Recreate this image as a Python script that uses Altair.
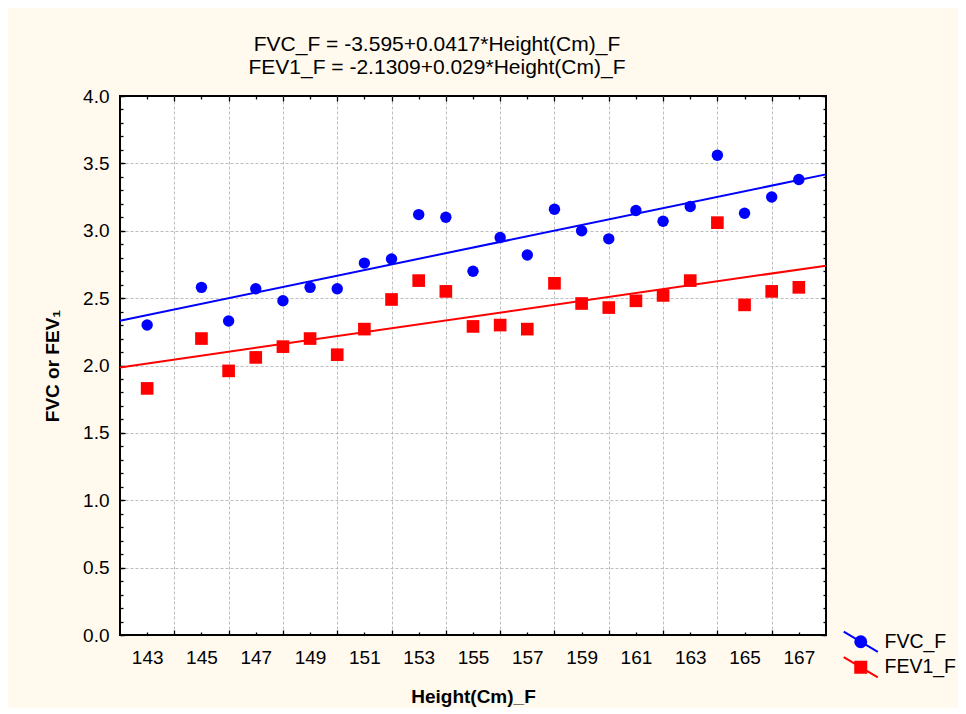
import altair as alt
import pandas as pd

# ---- data ----
heights = [143, 145, 146, 147, 148, 149, 150, 151, 152, 153, 154, 155,
           156, 157, 158, 159, 160, 161, 162, 163, 164, 165, 166, 167]
fvc_f = [2.30, 2.58, 2.33, 2.57, 2.48, 2.58, 2.57, 2.76, 2.79, 3.12, 3.10, 2.70,
         2.95, 2.82, 3.16, 3.00, 2.94, 3.15, 3.07, 3.18, 3.56, 3.13, 3.25, 3.38]
fev1_f = [1.83, 2.20, 1.96, 2.06, 2.14, 2.20, 2.08, 2.27, 2.49, 2.63, 2.55, 2.29,
          2.30, 2.27, 2.61, 2.46, 2.43, 2.48, 2.52, 2.63, 3.06, 2.45, 2.55, 2.58]
series_names = ["FVC_F", "FEV1_F"]
series_colors = ["#0000FF", "#FF0000"]
title_lines = ["FVC_F = -3.595+0.0417*Height(Cm)_F",
               "FEV1_F = -2.1309+0.029*Height(Cm)_F"]
x_title = "Height(Cm)_F"
y_title = "FVC or FEV\u2081"

x_domain = [142, 168]
y_domain = [0, 4]
x_label_ticks = [143, 145, 147, 149, 151, 153, 155, 157, 159, 161, 163, 165, 167]
x_major_ticks = [144, 146, 148, 150, 152, 154, 156, 158, 160, 162, 164, 166]
y_major_ticks = [0.0, 0.5, 1.0, 1.5, 2.0, 2.5, 3.0, 3.5, 4.0]
y_grid_ticks = [0.5, 1.0, 1.5, 2.0, 2.5, 3.0, 3.5]
y_minor_ticks = [round(i * 0.1, 1) for i in range(41)]

FONT = "Liberation Sans"

df_fvc = pd.DataFrame({"height": heights, "value": fvc_f, "series": "FVC_F"})
df_fev = pd.DataFrame({"height": heights, "value": fev1_f, "series": "FEV1_F"})
df_all = pd.concat([df_fvc, df_fev], ignore_index=True)

xs = alt.Scale(domain=x_domain, nice=False, zero=False)
ys = alt.Scale(domain=y_domain, nice=False, zero=False)


def axis(**kw):
    base = dict(domain=False, labels=False, ticks=False, grid=False, title=None,
                tickColor="black", tickWidth=1.3, labelOverlap=False, labelFlush=False)
    base.update(kw)
    return alt.Axis(**base)


def X(ax):
    return alt.X("height:Q", scale=xs, axis=ax)


def Y(ax):
    return alt.Y("value:Q", scale=ys, axis=ax)


# grid layer (no marks)
grid_layer = alt.Chart(df_all).transform_filter("false").mark_point().encode(
    x=X(axis(orient="bottom", values=x_major_ticks, grid=True, gridColor="#BDBDBD",
             gridDash=[3, 2], gridWidth=1)),
    y=Y(axis(orient="left", values=y_grid_ticks, grid=True, gridColor="#BDBDBD",
             gridDash=[3, 2], gridWidth=1)),
)

fvc_layer = alt.Chart(df_fvc).mark_point(
    shape="circle", filled=True, size=130, color=series_colors[0], opacity=1
).encode(
    x=X(axis(orient="bottom", values=x_label_ticks, labels=True, ticks=True, tickSize=3,
             offset=-3, labelPadding=13, labelFontSize=19, labelFont=FONT,
             labelColor="black", format="d", title=x_title, titleFontSize=19,
             titleFont=FONT, titleFontWeight="bold", titleColor="black", titlePadding=20)),
    y=Y(axis(orient="left", values=y_major_ticks, labels=True, ticks=True, tickSize=5,
             offset=-5, labelPadding=11, labelFontSize=19, labelFont=FONT,
             labelColor="black", format=".1f", title=y_title, titleFontSize=19,
             titleFont=FONT, titleFontWeight="bold", titleColor="black", titlePadding=20)),
)

fev_layer = alt.Chart(df_fev).mark_point(
    shape="square", filled=True, size=160, color=series_colors[1], opacity=1
).encode(
    x=X(axis(orient="bottom", values=x_major_ticks, ticks=True, tickSize=5, offset=-5)),
    y=Y(axis(orient="left", values=y_minor_ticks, ticks=True, tickSize=3, offset=-3)),
)

reg_fvc = alt.Chart(df_fvc).transform_regression(
    "height", "value", extent=x_domain
).mark_line(strokeWidth=2, color=series_colors[0]).encode(
    x=X(axis(orient="top", values=x_label_ticks, ticks=True, tickSize=3, offset=-3)),
    y=Y(axis(orient="right", values=y_major_ticks, ticks=True, tickSize=5, offset=-5)),
)

reg_fev = alt.Chart(df_fev).transform_regression(
    "height", "value", extent=x_domain
).mark_line(strokeWidth=2, color=series_colors[1]).encode(
    x=X(None),
    y=Y(None),
)

circle_path = "M-3.1,-1.85L3.1,1.85M1,0A1,1,0,1,1,-1,0A1,1,0,1,1,1,0Z"
square_path = "M-3.1,-1.85L3.1,1.85M-1,-1L1,-1L1,1L-1,1Z"

leg = alt.Legend(title=None, orient="none", legendX=731, legendY=536, labelFontSize=19.5,
                 labelFont=FONT, labelColor="black", symbolSize=121, symbolStrokeWidth=2,
                 symbolOpacity=1, rowPadding=-3.5, labelOffset=14, padding=0)

# invisible marks that only carry the legend
legend_layer = alt.Chart(df_all).mark_point(
    filled=True, opacity=0
).encode(
    x=X(axis(orient="top", values=x_major_ticks, ticks=True, tickSize=5, offset=-5)),
    y=Y(axis(orient="right", values=y_minor_ticks, ticks=True, tickSize=3, offset=-3)),
    fill=alt.Fill("series:N", scale=alt.Scale(domain=series_names, range=series_colors),
                  legend=leg),
    stroke=alt.Stroke("series:N", scale=alt.Scale(domain=series_names, range=series_colors),
                      legend=leg),
    shape=alt.Shape("series:N", scale=alt.Scale(domain=series_names,
                                                range=[circle_path, square_path]),
                    legend=leg),
)

chart = alt.layer(
    grid_layer, reg_fvc, reg_fev, fvc_layer, fev_layer, legend_layer
).resolve_axis(
    x="independent", y="independent"
).properties(
    width=706,
    height=539,
    title=alt.TitleParams(text=title_lines, fontSize=21, font=FONT, fontWeight="normal",
                          color="black", anchor="middle", frame="group", dx=-36, dy=32,
                          offset=20, lineHeight=23, baseline="bottom"),
    autosize=alt.AutoSizeParams(type="none"),
    padding={"left": 112, "top": 88, "right": 132, "bottom": 73},
    background="#FFF9EE",
).configure_view(stroke="black", strokeWidth=2, fill="white")

chart.save("out.html", embed_options={"renderer": "svg", "actions": False})
